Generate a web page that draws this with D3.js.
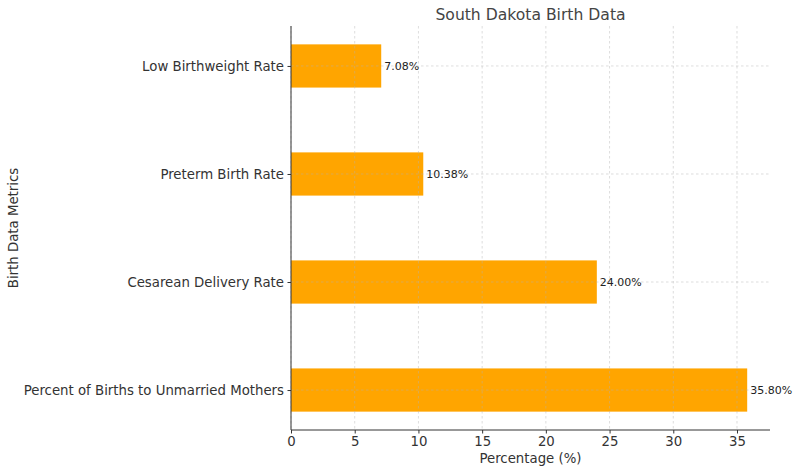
<!DOCTYPE html>
<html><head><meta charset="utf-8">
<script src="https://cdn.jsdelivr.net/npm/d3@7"></script>
<style>body{margin:0;background:#fff}svg{display:block}text{font-family:"DejaVu Sans",sans-serif}</style>
</head><body>
<svg id="c" width="800" height="473"></svg>
<script>
const categories = ["Percent of Births to Unmarried Mothers","Cesarean Delivery Rate","Preterm Birth Rate","Low Birthweight Rate"];
const values = [35.80, 24.00, 10.38, 7.08];
const xTicks = [0,5,10,15,20,25,30,35];

const svg = d3.select("#c");
const L = 291, R = 770, T = 26, B = 430;
const x = d3.scaleLinear().domain([0, 35.8*1.05]).range([L, R]);
const y = d3.scaleLinear().domain([-0.37, 3.37]).range([B, T]);
const bh = 0.4;

svg.append("g").selectAll("rect").data(values).join("rect")
  .attr("x", x(0)).attr("y", (d,i)=>y(i+bh/2))
  .attr("width", d=>x(d)-x(0)).attr("height", (d,i)=>y(i-bh/2)-y(i+bh/2))
  .attr("fill", "#FFA500");

const g = svg.append("g").attr("stroke","#b0b0b0").attr("stroke-opacity",0.55).attr("stroke-width",0.8).attr("stroke-dasharray","2.5,2.5");
g.selectAll(".vx").data(xTicks).join("line").attr("x1",d=>x(d)).attr("x2",d=>x(d)).attr("y1",T).attr("y2",B);
g.selectAll(".hy").data(categories).join("line").attr("x1",L).attr("x2",R).attr("y1",(d,i)=>y(i)).attr("y2",(d,i)=>y(i));

const xa = svg.append("g").attr("transform",`translate(0,${B})`)
  .call(d3.axisBottom(x).tickValues(xTicks).tickSize(3.5).tickPadding(3.5).tickFormat(d3.format("d")));
const ya = svg.append("g").attr("transform",`translate(${L},0)`)
  .call(d3.axisLeft(d3.scaleOrdinal().domain(categories).range(categories.map((c,i)=>y(i)))).tickSize(3.5).tickPadding(3.5));
[xa,ya].forEach(a=>{
  a.attr("font-size",null).attr("font-family",null);
  a.select(".domain").attr("stroke","#333").attr("stroke-width",1);
  a.selectAll(".tick line").attr("stroke","#333");
  a.selectAll(".tick text").attr("fill","#333").style("font-size","13.3px");
});
xa.select(".domain").attr("d",`M${L},0H${R}`);
ya.select(".domain").attr("d",`M0,${T}V${B}`);

svg.append("g").selectAll("text").data(values).join("text")
  .attr("x", d=>x(d)+3).attr("y",(d,i)=>y(i)).attr("dy","0.35em")
  .style("font-size","11px").attr("fill","#222").text(d=>d.toFixed(2)+"%");

svg.append("text").attr("x",(L+R)/2).attr("y",20).attr("text-anchor","middle")
  .style("font-size","15.6px").attr("fill","#444").text("South Dakota Birth Data");
svg.append("text").attr("x",(L+R)/2).attr("y",463).attr("text-anchor","middle")
  .style("font-size","13.3px").attr("fill","#333").text("Percentage (%)");
svg.append("text").attr("transform",`translate(18,${(T+B)/2}) rotate(-90)`).attr("text-anchor","middle")
  .style("font-size","13.3px").attr("fill","#333").text("Birth Data Metrics");
</script>
</body></html>
